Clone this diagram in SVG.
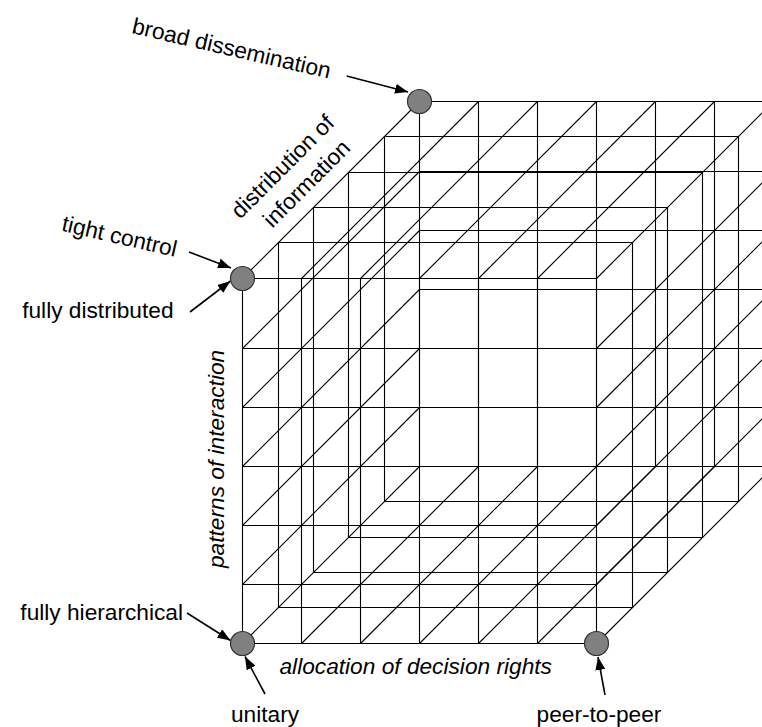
<svg xmlns="http://www.w3.org/2000/svg" width="762" height="727" viewBox="0 0 762 727">
  <style>
    .grid { fill: none; stroke: #000; stroke-width: 1.1; }
    .corner { fill: #808080; stroke: #333; stroke-width: 1.2; }
    .arrow { fill: none; stroke: #000; stroke-width: 1.6; }
    .lbl { font-family: "Liberation Sans", Arial, sans-serif; font-size: 22.7px; fill: #000; }
    .axis { font-style: italic; }
  </style>
  <defs>
    <marker id="head" markerUnits="userSpaceOnUse" markerWidth="14" markerHeight="10" refX="13" refY="5" orient="auto">
      <path d="M0,0 L13,5 L0,10 Z" fill="#000"/>
    </marker>
  </defs>

  <rect width="762" height="727" fill="#fff"/>

  <!-- gridded cube surface: front and back faces carry a full 6x6 grid,
       the four side faces are drawn by depth rings and depth lines -->
  <g id="cube-grid" class="grid">
    <!-- front face (depth 0) -->
    <path d="M242.5 278.5V643.5M301.5 278.5V643.5M360.5 278.5V643.5M419.5 278.5V643.5M478.5 278.5V643.5M537.5 278.5V643.5M596.5 278.5V643.5
             M242.5 278.5H596.5M242.5 348.5H596.5M242.5 407.5H596.5M242.5 466.5H596.5M242.5 525.5H596.5M242.5 584.5H596.5M242.5 643.5H596.5"/>
    <!-- back face (depth 5) -->
    <path d="M419.5 101.5V466.5M478.5 101.5V466.5M537.5 101.5V466.5M596.5 101.5V466.5M655.5 101.5V466.5M714.5 101.5V466.5M773.5 101.5V466.5
             M419.5 101.5H773.5M419.5 171.5H773.5M419.5 230.5H773.5M419.5 289.5H773.5M419.5 348.5H773.5M419.5 407.5H773.5M419.5 466.5H773.5"/>
    <!-- intermediate depth rings 1..4 -->
    <path d="M278.5 242.5H632.5V607.5H278.5Z
             M313.5 207.5H667.5V572.5H313.5Z
             M348.5 172.5H702.5V537.5H348.5Z
             M384.5 136.5H738.5V501.5H384.5Z"/>
    <!-- depth lines on the left face -->
    <path d="M242.5 643.5l177-177M242.5 584.5l177-177M242.5 525.5l177-177M242.5 466.5l177-177M242.5 407.5l177-177M242.5 348.5l177-177M242.5 278.5l177-177"/>
    <!-- depth lines on the right face -->
    <path d="M596.5 643.5l177-177M596.5 584.5l177-177M596.5 525.5l177-177M596.5 466.5l177-177M596.5 407.5l177-177M596.5 348.5l177-177M596.5 278.5l177-177"/>
    <!-- depth lines on the top face -->
    <path d="M301.5 278.5l177-177M360.5 278.5l177-177M419.5 278.5l177-177M478.5 278.5l177-177M537.5 278.5l177-177"/>
    <!-- depth lines on the bottom face -->
    <path d="M301.5 643.5l177-177M360.5 643.5l177-177M419.5 643.5l177-177M478.5 643.5l177-177M537.5 643.5l177-177"/>
  </g>

  <!-- axis titles -->
  <g id="axis-titles" class="lbl">
    <text class="axis" x="279.5" y="674">allocation of decision rights</text>
    <text class="axis" transform="translate(223.5,568) rotate(-90)">patterns of interaction</text>
    <text transform="translate(288,172) rotate(-45)" text-anchor="middle">distribution of</text>
    <text transform="translate(312,189) rotate(-45)" text-anchor="middle">information</text>
  </g>

  <!-- pointer arrows from the end labels to the corners -->
  <g id="connectors" class="arrow">
    <line x1="346.7" y1="76" x2="408" y2="92" marker-end="url(#head)"/>
    <line x1="189" y1="252" x2="231" y2="268" marker-end="url(#head)"/>
    <line x1="190" y1="312" x2="230.5" y2="281" marker-end="url(#head)"/>
    <line x1="187" y1="613" x2="230.5" y2="640.5" marker-end="url(#head)"/>
    <line x1="265" y1="694" x2="245" y2="656.5" marker-end="url(#head)"/>
    <line x1="605" y1="695" x2="598" y2="657" marker-end="url(#head)"/>
  </g>

  <!-- corner nodes with their end labels -->
  <g id="corner-back-top">
    <circle class="corner" cx="419.5" cy="101.5" r="12"/>
    <text class="lbl" transform="translate(131,33) rotate(13)">broad dissemination</text>
  </g>
  <g id="corner-front-top">
    <circle class="corner" cx="242.5" cy="278.5" r="12"/>
    <text class="lbl" transform="translate(175,257) rotate(13)" text-anchor="end">tight control</text>
    <text class="lbl" x="173.5" y="318" text-anchor="end">fully distributed</text>
  </g>
  <g id="corner-origin">
    <circle class="corner" cx="242.5" cy="643.5" r="12"/>
    <text class="lbl" x="183" y="620" text-anchor="end">fully hierarchical</text>
    <text class="lbl" x="265" y="721.5" text-anchor="middle">unitary</text>
  </g>
  <g id="corner-front-right">
    <circle class="corner" cx="596.5" cy="643.5" r="12"/>
    <text class="lbl" x="599" y="721.5" text-anchor="middle">peer-to-peer</text>
  </g>
</svg>
